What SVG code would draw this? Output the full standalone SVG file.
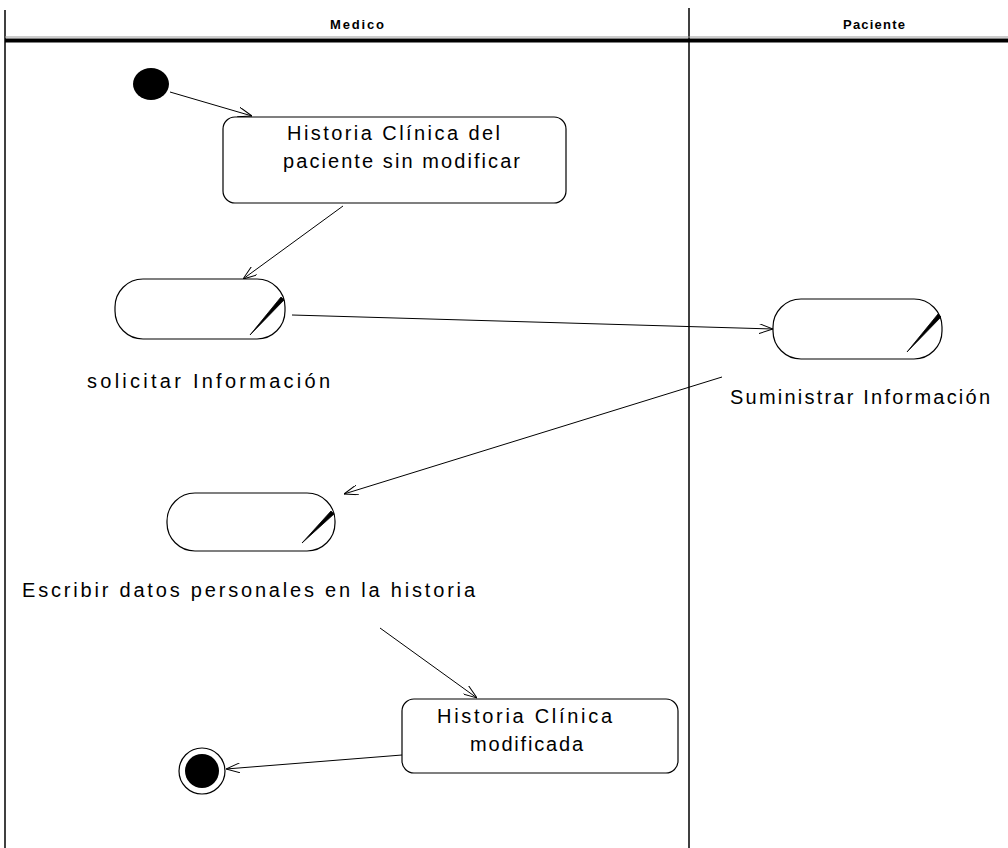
<svg xmlns="http://www.w3.org/2000/svg" width="1008" height="848" viewBox="0 0 1008 848">
  <style>
    .lane { stroke: #000; stroke-width: 1.5; fill: none; }
    .head { font-family: "Liberation Sans", Arial, sans-serif; font-size: 13px; font-weight: bold; fill: #000; }
    .lbl { font-family: "Liberation Sans", Arial, sans-serif; font-size: 20px; fill: #000; }
    .box { fill: #fff; stroke: #000; stroke-width: 1.2; }
    .edge { stroke: #000; stroke-width: 1; fill: none; marker-end: url(#open); }
    .slash { fill: #000; stroke: #000; stroke-width: 0.8; }
  </style>
  <defs>
    <marker id="open" viewBox="0 0 14 10" refX="14" refY="5" markerWidth="14" markerHeight="10" markerUnits="userSpaceOnUse" orient="auto">
      <path d="M0,0 L14,5 L0,10" fill="none" stroke="#000" stroke-width="1"/>
    </marker>
  </defs>
  <rect width="1008" height="848" fill="#fff"/>

  <!-- swimlanes -->
  <g id="lanes">
    <line class="lane" x1="5" y1="10" x2="5" y2="848"/>
    <line class="lane" x1="689" y1="8" x2="689" y2="848"/>
    <line x1="5" y1="40.5" x2="1008" y2="40.5" stroke="#000" stroke-width="4"/>
    <line x1="5" y1="37" x2="1008" y2="37" stroke="#999" stroke-width="1"/>
    <text class="head" x="330" y="29" textLength="54" lengthAdjust="spacing">Medico</text>
    <text class="head" x="843" y="29" textLength="62" lengthAdjust="spacing">Paciente</text>
  </g>

  <!-- connectors -->
  <g id="connectors">
    <line class="edge" x1="170" y1="92" x2="252" y2="116"/>
    <line class="edge" x1="343" y1="206" x2="243" y2="279"/>
    <line class="edge" x1="292" y1="315" x2="773" y2="329"/>
    <line class="edge" x1="722" y1="377" x2="344" y2="494"/>
    <line class="edge" x1="380" y1="628" x2="477" y2="698"/>
    <line class="edge" x1="402" y1="755" x2="226" y2="769"/>
  </g>

  <g id="start">
    <ellipse cx="151" cy="84" rx="18" ry="16" fill="#000"/>
  </g>

  <g id="hc-sin-modificar">
    <rect class="box" x="223" y="117" width="343" height="86" rx="12"/>
    <text class="lbl" x="287" y="140" textLength="213" lengthAdjust="spacing">Historia Clínica del</text>
    <text class="lbl" x="283" y="168" textLength="237" lengthAdjust="spacing">paciente sin modificar</text>
  </g>

  <g id="solicitar">
    <rect class="box" x="115" y="279" width="170" height="60" rx="28"/>
    <polygon class="slash" points="250,335 281,297 284,300"/>
    <text class="lbl" x="87" y="388" textLength="243" lengthAdjust="spacing">solicitar Información</text>
  </g>

  <g id="suministrar">
    <rect class="box" x="773" y="299" width="169" height="60" rx="28"/>
    <polygon class="slash" points="907,352 938,314 941,317"/>
    <text class="lbl" x="730" y="404" textLength="260" lengthAdjust="spacing">Suministrar Información</text>
  </g>

  <g id="escribir">
    <rect class="box" x="167" y="493" width="168" height="58" rx="28"/>
    <polygon class="slash" points="302,543 331,511 334,514"/>
    <text class="lbl" x="22" y="597" textLength="453" lengthAdjust="spacing">Escribir datos personales en la historia</text>
  </g>

  <g id="hc-modificada">
    <rect class="box" x="402" y="699" width="276" height="74" rx="12"/>
    <text class="lbl" x="437" y="723" textLength="175" lengthAdjust="spacing">Historia Clínica</text>
    <text class="lbl" x="470" y="751" textLength="113" lengthAdjust="spacing">modificada</text>
  </g>

  <g id="end">
    <circle cx="202" cy="771" r="23" fill="#fff" stroke="#000" stroke-width="1.2"/>
    <circle cx="202" cy="771" r="17" fill="#000"/>
  </g>
</svg>
